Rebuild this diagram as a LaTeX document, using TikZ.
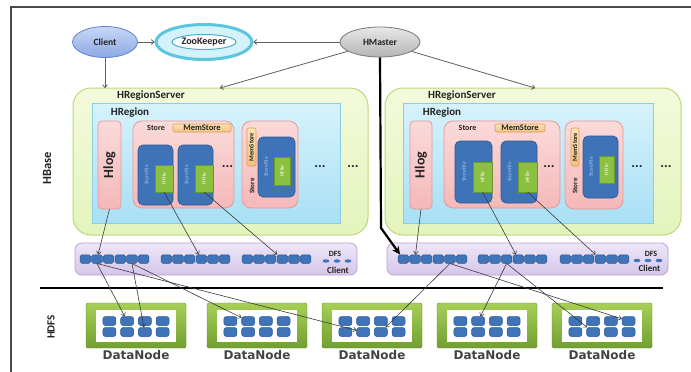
\documentclass[tikz,border=0pt]{standalone}
\usepackage{fontspec}
\setmainfont{Carlito}
\newfontfamily\dnfont{DejaVu Sans}
\usetikzlibrary{arrows.meta,calc,shapes.geometric}
\definecolor{frameC}{HTML}{4A4A4A}
\definecolor{clT}{HTML}{C8D7F6}\definecolor{clB}{HTML}{8CA8E4}\definecolor{clD}{HTML}{6585CC}
\definecolor{zkF}{HTML}{D4F2FA}\definecolor{zkD}{HTML}{5CC6DF}\definecolor{zkI}{HTML}{4AAFCB}
\definecolor{hmT}{HTML}{E8E8E8}\definecolor{hmB}{HTML}{B4B4B4}\definecolor{hmD}{HTML}{777777}
\definecolor{hrsT}{HTML}{F3FADC}\definecolor{hrsBt}{HTML}{E4F4BC}\definecolor{hrsD}{HTML}{BCD97A}
\definecolor{hrgT}{HTML}{D6F2FC}\definecolor{hrgB}{HTML}{A8E0F4}\definecolor{hrgD}{HTML}{8CCDE6}
\definecolor{pkT}{HTML}{FBDADA}\definecolor{pkB}{HTML}{F5B8B8}\definecolor{pkD}{HTML}{E39B9B}
\definecolor{msT}{HTML}{FBE3B8}\definecolor{msB}{HTML}{F3C27E}\definecolor{msD}{HTML}{DD9E55}
\definecolor{sfF}{HTML}{3F73B7}\definecolor{sfD}{HTML}{2C5893}\definecolor{sfTx}{HTML}{A9C5EF}
\definecolor{hfF}{HTML}{8BC040}\definecolor{hfD}{HTML}{679A2A}
\definecolor{dfT}{HTML}{EEE6F8}\definecolor{dfB}{HTML}{D5C6EA}\definecolor{dfD}{HTML}{B4A3D4}
\definecolor{blF}{HTML}{3F74B9}\definecolor{blD}{HTML}{285894}
\definecolor{dnT}{HTML}{A6CF58}\definecolor{dnB}{HTML}{729F30}
\definecolor{txt}{HTML}{222222}
\definecolor{arr}{HTML}{3A3A3A}
\newcommand\boxat[6]{\node[#1,anchor=north west,minimum width=#4pt,minimum height=#5pt,inner sep=0pt,outer sep=0pt] (#6) at (#2,#3) {};}
\begin{document}
\begin{tikzpicture}[x=1pt,y=-1pt,
  lbl/.style={font=\bfseries\fontsize{#1}{#1}\selectfont, text=txt, inner sep=0pt},
  ell/.style={ellipse, inner sep=0pt},
  hrsbox/.style={rounded corners=18pt, draw=hrsD, line width=1pt, top color=hrsT, bottom color=hrsBt},
  hrgbox/.style={draw=hrgD, line width=0.8pt, top color=hrgT, bottom color=hrgB},
  pinkbox/.style={rounded corners=#1, draw=pkD, line width=0.8pt, top color=pkT, bottom color=pkB},
  msbox/.style={rounded corners=2pt, draw=msD, line width=0.6pt, top color=msT, bottom color=msB},
  sfbox/.style={rounded corners=5pt, draw=sfD, line width=0.6pt, fill=sfF},
  hfbox/.style={draw=hfD, line width=0.5pt, fill=hfF},
  dfsbox/.style={rounded corners=7pt, draw=dfD, line width=0.8pt, top color=dfT, bottom color=dfB},
  blk/.style={rounded corners=1.8pt, draw=blD, line width=0.5pt, fill=blF, minimum width=10.6pt, minimum height=8.5pt, inner sep=0pt},
  dnblk/.style={rounded corners=2.5pt, draw=blD, line width=0.5pt, fill=blF, minimum width=13pt, minimum height=9pt, inner sep=0pt},
  dnframe/.style={rounded corners=1.5pt, top color=dnT, bottom color=dnB, draw=dnB!90!black, line width=0.4pt},
  conn/.style={draw=arr, line width=0.6pt, -{To[length=3.4pt,width=5pt]}},
  topconn/.style={draw=hmD!80!black, line width=0.8pt, -{To[length=3.6pt,width=5.4pt]}},
  dotsl/.style={font=\bfseries\fontsize{14}{14}\selectfont, text=txt, inner sep=0pt},
  sftext/.style={rotate=90, font=\fontsize{5.5}{5.5}\selectfont, text=sfTx, inner sep=0pt},
  hftext/.style={rotate=90, font=\fontsize{5.5}{5.5}\selectfont, text=white, inner sep=0pt}
]
\useasboundingbox (0,0) rectangle (691,372);
\fill[white] (0,0) rectangle (691,372);
% frame
\draw[draw=frameC, line width=1.8pt] (11,372) -- (11,7) -- (691,7);

% top ellipses
\node[ell, minimum width=65pt, minimum height=31pt, draw=clD, line width=0.8pt, top color=clT, bottom color=clB, lbl=9.5] (client) at (105,42) {Client};
\node[ell, minimum width=96pt, minimum height=35pt, draw=zkD, line width=3pt, fill=zkF] (zk) at (204,42) {};
\node[ell, minimum width=64pt, minimum height=15pt, draw=zkI, line width=1pt, fill=white, lbl=10] (zkin) at (204,42) {ZooKeeper};
\node[ell, minimum width=80pt, minimum height=30pt, draw=hmD, line width=0.8pt, top color=hmT, bottom color=hmB, lbl=9.5] (hm) at (380,42) {HMaster};

% ---------- left HRegionServer ----------
\boxat{hrsbox}{73}{88}{295}{147}{hrsL}
\boxat{hrgbox}{92}{103}{248}{120}{hrgL}
\node[lbl=11] (hrsLt) at (151,96) {HRegionServer};
\node[lbl=11] (hrgLt) at (130,113) {HRegion};
\boxat{pinkbox=4pt}{98}{121}{23}{88}{hlogL}
\node[lbl=14, rotate=90] at (hlogL) {Hlog};
\boxat{pinkbox=9pt}{133}{121}{101}{87}{stL1}
\node[lbl=8] at (156,128) {Store};
\boxat{msbox}{173}{124}{58}{8}{msL1}
\node[lbl=8.5] at (msL1) {MemStore};
\boxat{sfbox}{138}{145}{35}{60}{sfL1}
\boxat{hfbox}{155}{165}{18}{27}{hfL1}
\node[sftext] at (146.5,175) {StoreFile};
\node[hftext] at (hfL1) {HFile};
\boxat{sfbox}{178}{145}{35}{60}{sfL2}
\boxat{hfbox}{195}{165}{18}{27}{hfL2}
\node[sftext] at (186.5,175) {StoreFile};
\node[hftext] at (hfL2) {HFile};
\node[dotsl] at (227.5,167) {...};
\boxat{pinkbox=9pt}{242}{121}{56}{87}{stL2}
\boxat{msbox}{247}{128}{9}{38}{msL2}
\node[lbl=6.5, rotate=90] at (msL2) {MemStore};
\node[lbl=7, rotate=90] at (252,186) {Store};
\boxat{sfbox}{258}{137}{37}{60}{sfL3}
\boxat{hfbox}{274}{157}{16}{28}{hfL3}
\node[sftext] at (266,167) {StoreFile};
\node[hftext] at (hfL3) {HFile};
\node[dotsl] at (320,167) {...};
\node[dotsl] at (353,167) {...};

% ---------- right HRegionServer ----------
\boxat{hrsbox}{385}{88}{296}{147}{hrsR}
\boxat{hrgbox}{403}{103}{250}{120}{hrgR}
\node[lbl=11] (hrsRt) at (462,96) {HRegionServer};
\node[lbl=11] (hrgRt) at (442,113) {HRegion};
\boxat{pinkbox=4pt}{410}{121}{22}{88}{hlogR}
\node[lbl=14, rotate=90] at (hlogR) {Hlog};
\boxat{pinkbox=9pt}{444}{121}{116}{87}{stR1}
\node[lbl=8] at (467.5,128) {Store};
\boxat{msbox}{495}{124}{50}{8}{msR1}
\node[lbl=8.5] at (msR1) {MemStore};
\boxat{sfbox}{455}{141}{37}{62}{sfR1}
\boxat{hfbox}{473}{162}{19}{30}{hfR1}
\node[sftext] at (464,172) {StoreFile};
\node[hftext] at (hfR1) {HFile};
\boxat{sfbox}{501}{141}{36}{62}{sfR2}
\boxat{hfbox}{518}{162}{19}{30}{hfR2}
\node[sftext] at (509.5,172) {StoreFile};
\node[hftext] at (hfR2) {HFile};
\node[dotsl] at (549,167) {...};
\boxat{pinkbox=9pt}{565}{121}{58}{88}{stR2}
\boxat{msbox}{571}{128}{8}{38}{msR2}
\node[lbl=6.5, rotate=90] at (msR2) {MemStore};
\node[lbl=7, rotate=90] at (575,186) {Store};
\boxat{sfbox}{583}{136}{35}{62}{sfR3}
\boxat{hfbox}{599}{156}{15}{27}{hfR3}
\node[sftext] at (591,167) {StoreFile};
\node[hftext] at (hfR3) {HFile};
\node[dotsl] at (637,167) {...};
\node[dotsl] at (666,167) {...};

% ---------- DFS clients ----------
\boxat{dfsbox}{75}{243}{282}{32}{dfsL}
\boxat{dfsbox}{387}{243}{281}{32}{dfsR}
\foreach \g/\gx in {1/80,2/161,3/242}{
  \foreach \b in {1,...,6}{
    \node[blk] (Lg\g-\b) at ({\gx+(\b-1)*11.67+5.3},259) {};
  }
}
\foreach \g/\gx in {1/398,2/478,3/560}{
  \foreach \b in {1,...,6}{
    \node[blk] (Rg\g-\b) at ({\gx+(\b-1)*11.67+5.3},259) {};
  }
}
\node[lbl=8] at (335,254) {DFS};
\node[lbl=9] at (338,270.5) {Client};
\foreach \dx in {326,337,348}{\fill[blF] (\dx,261) ellipse (3.4pt and 1.7pt);}
\node[lbl=8] at (651,254) {DFS};
\node[lbl=9] at (649.5,268) {Client};
\foreach \dx in {637,648,659}{\fill[blF] (\dx,260.5) ellipse (3.4pt and 1.7pt);}

% separator and side labels
\draw[line width=2.4pt, draw=black] (40,288) -- (663,288);
\node[lbl=12.5, rotate=90] (hbase) at (47,168) {HBase};
\node[lbl=11, rotate=90] (hdfs) at (51,327) {HDFS};

% ---------- DataNodes ----------
\foreach \d/\dx in {1/136,2/257,3/372,4/487,5/602}{
  \boxat{dnframe}{\dx-50}{303}{100}{45}{DN\d}
  \fill[white] (\dx-40,310) rectangle (\dx+40,342);
  \foreach \r/\ry in {1/321,2/332}{
    \foreach \c in {1,...,4}{
      \node[dnblk] (D\d-\r\c) at ({\dx+(\c-2.5)*17.7},\ry) {};
    }
  }
  \node[font=\dnfont\bfseries\fontsize{12}{12}\selectfont, text=txt!85!white, inner sep=0pt] at (\dx,355.5) {DataNode};
}

% ---------- connectors ----------
\coordinate (hrsLtop) at (220,88);
\coordinate (hrsRtop) at (535,88);
\coordinate (bend) at (381,228);
\draw[topconn] (client) -- (zk);
\draw[topconn] (hm) -- (zk);
\draw[topconn] (client.south) -- (client.south |- hrsL.north);
\draw[topconn] (hm) -- (hrsLtop);
\draw[topconn] (hm) -- (hrsRtop);
\draw[line width=2.2pt, -{Stealth[length=8pt,width=7.5pt]}] (hm.south) -- (bend) -- (Rg1-1);

\draw[conn] (hlogL.south) -- (Lg1-2);
\draw[conn] (hfL1.south) -- (Lg2-4);
\draw[conn] (hfL2.south) -- (Lg3-4);
\draw[conn] (hlogR.south) -- (Rg1-2);
\draw[conn] (hfR1.south) -- (Rg2-4);
\draw[conn] (hfR2.south) -- (Rg3-4);

\draw[conn] (Lg1-2.south) -- (D1-12);
\draw[conn] (Lg1-2.south) -- (D3-22);
\draw[conn] (Lg1-5.south) -- (D1-23);
\draw[conn] (Lg1-5.south) -- (D2-12);
\draw[conn] (Rg1-5.south) -- (D3-23);
\draw[conn] (Rg1-5.south) -- (D5-14);
\draw[conn] (Rg2-3.south) -- (D4-12);
\draw[conn] (Rg2-3.south) -- (D5-22);
\end{tikzpicture}
\end{document}
